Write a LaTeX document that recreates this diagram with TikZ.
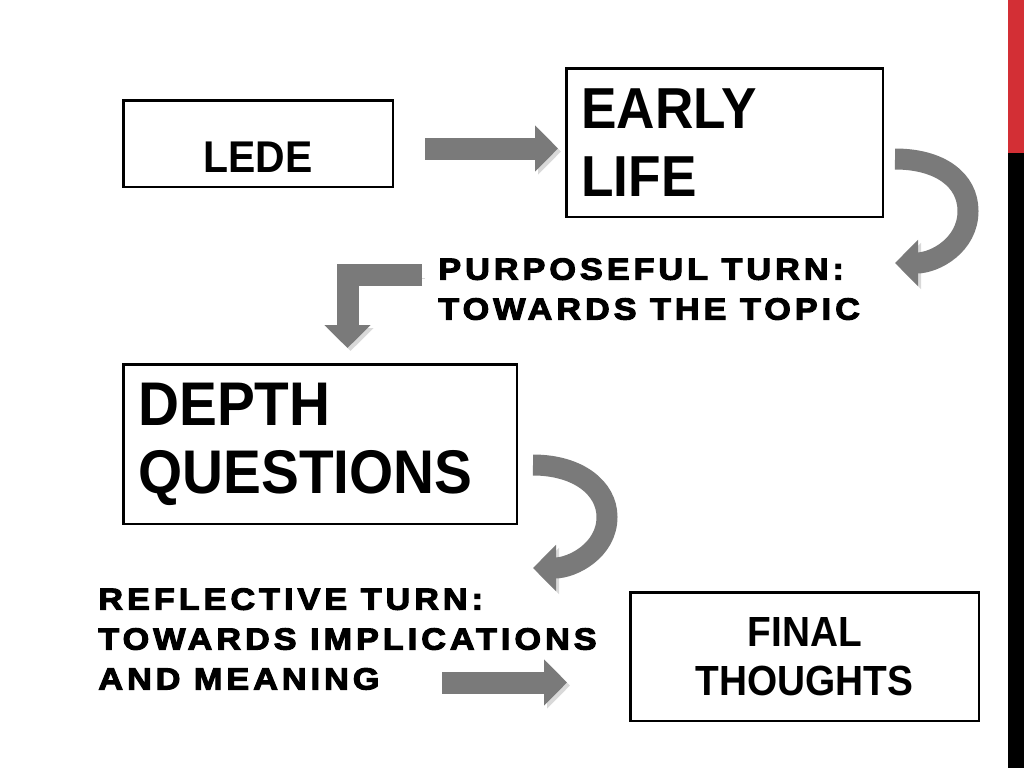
\documentclass[tikz,border=0pt]{standalone}
\usepackage{fontspec}
\setmainfont{Liberation Sans}
\newfontfamily\boxfont{Liberation Sans}[FakeStretch=0.92]
\newfontfamily\turnfont{Liberation Sans}[FakeBold=3.5,FakeStretch=1.12,LetterSpace=13]
\usetikzlibrary{arrows.meta,positioning}
\definecolor{ArrowGrey}{HTML}{7A7A7A}
\definecolor{BarRed}{HTML}{D32F35}

\begin{document}
\begin{tikzpicture}[x=0.02cm,y=-0.02cm,
    box/.style={draw,line width=0.05cm,inner sep=0pt,anchor=north west},
    leftbox/.style={box,align=left,inner xsep=0.3cm},
    turn/.style={anchor=north west,inner sep=0pt,align=left,
                 font=\turnfont\bfseries\fontsize{17.4pt}{22.7pt}\selectfont},
    fat/.style={draw=ArrowGrey,line width=0.44cm,line join=miter,
                -{Triangle[length=0.46cm,width=0.9cm]},
                preaction={draw=black!15,transform canvas={shift={(0.06cm,-0.06cm)}}}}]
  \fill[white] (0,0) rectangle (1024,768);
  \useasboundingbox (0,0) rectangle (1024,768);
  % side bar
  \fill (1008,0) rectangle (1024,768);
  \fill[BarRed] (1008,0) rectangle (1024,153);

  % boxes
  \node[box,minimum width=5.4cm,minimum height=1.74cm,text height=1.16cm,text depth=0pt,
        font=\boxfont\bfseries\fontsize{25.3pt}{30pt}\selectfont] (lede) at (122,99) {LEDE};
  \node[leftbox,minimum height=2.98cm,text width=5.74cm,
        font=\boxfont\bfseries\fontsize{32.9pt}{39.1pt}\selectfont] (early) at (565,67) {EARLY\\LIFE};
  \node[leftbox,minimum height=3.2cm,text width=7.28cm,
        font=\boxfont\bfseries\fontsize{35.1pt}{38.5pt}\selectfont] (depth) at (122,363) {DEPTH\\QUESTIONS};
  \node[box,align=center,minimum width=6.98cm,minimum height=2.58cm,
        font=\boxfont\bfseries\fontsize{24pt}{28.3pt}\selectfont] (final) at (629,591) {FINAL\\THOUGHTS};

  % turns
  \node[turn] (purpose) at (438,258) {PURPOSEFUL TURN:\\TOWARDS THE TOPIC};
  \node[turn] (reflect) at (98,588) {REFLECTIVE TURN:\\TOWARDS IMPLICATIONS\\AND MEANING};

  % arrow ends
  \coordinate (a1s) at (425,148.5);
  \coordinate (a1e) at (558,148.5);
  \coordinate (c1s) at (895,159);
  \coordinate (c1e) at (895,263);
  \coordinate (b1s) at (422,275);
  \coordinate (b1e) at (347.5,348);
  \coordinate (c2s) at (533,465);
  \coordinate (c2e) at (533,568);
  \coordinate (a2s) at (442,682.5);
  \coordinate (a2e) at (567,682.5);

  \draw[fat] (a1s) -- (a1e);
  \draw[fat,line width=0.42cm] (c1s) .. controls (940,159) and (968,180) .. (968,211)
    .. controls (968,245) and (935,263) .. (c1e);
  \draw[fat] (b1s) -| (b1e);
  \draw[fat,line width=0.42cm] (c2s) .. controls (578,465) and (607,488) .. (607,517)
    .. controls (607,550) and (573,568) .. (c2e);
  \draw[fat] (a2s) -- (a2e);
\end{tikzpicture}
\end{document}
